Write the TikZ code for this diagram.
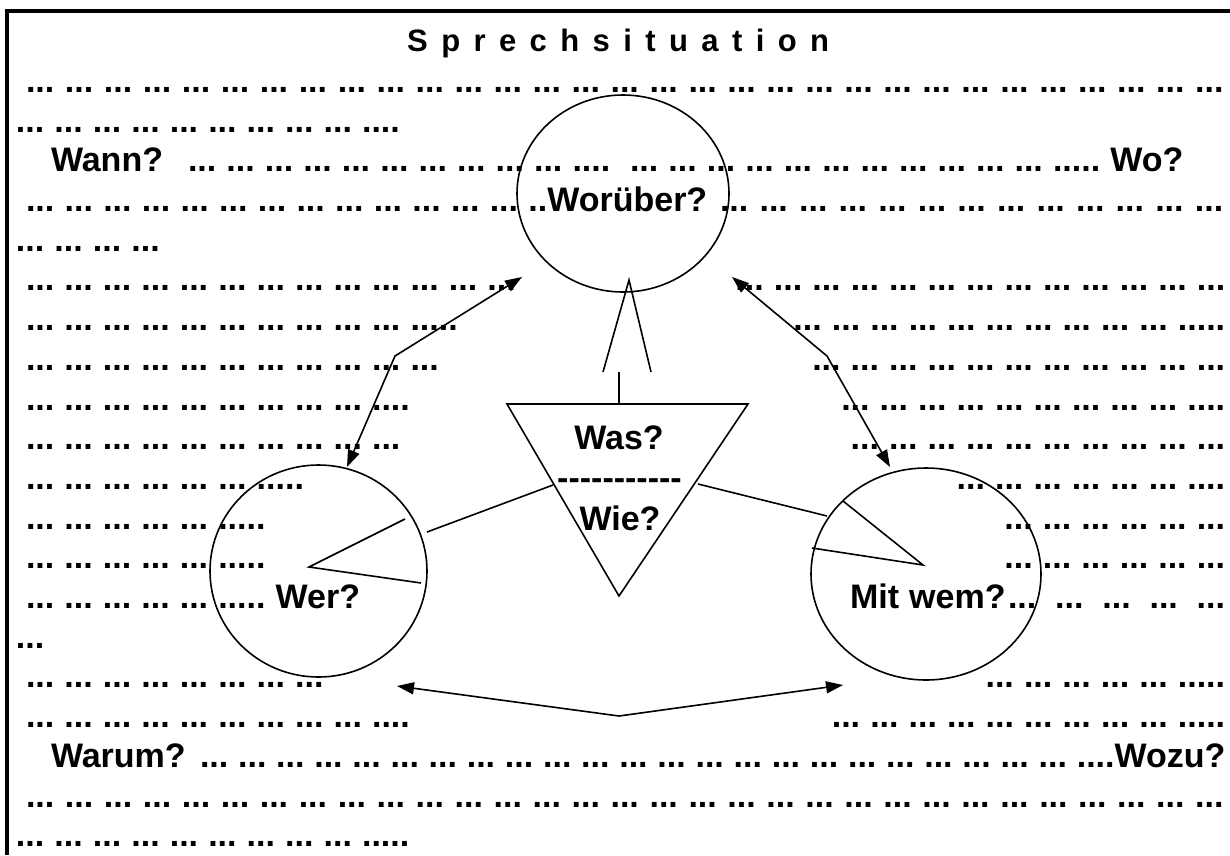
\documentclass[tikz,border=0pt]{standalone}
\usepackage{fontspec}
\setmainfont{Liberation Sans}
\usetikzlibrary{shapes.geometric,arrows.meta}

% a run of n groups of three dots, separated by single spaces
\newcommand\dotrun[1]{\foreach \i in {1,...,#1}{\ifnum\i>1 \space\fi...}}
\newcommand\bodyfont{\fontsize{34}{40}\selectfont\bfseries\frenchspacing\spaceskip=10.1pt plus 8pt minus 2pt\relax}
\newcommand\headfont{\fontsize{31}{36}\selectfont\bfseries\frenchspacing\spaceskip=13.4pt\relax}

\tikzset{
  txt/.style={font=\bodyfont, inner sep=0pt, outer sep=0pt, anchor=base west},
  txtr/.style={txt, anchor=base east},
  txtc/.style={txt, anchor=base},
  ring/.style={draw, ellipse, line width=1.6pt, inner sep=0pt},
  link/.style={line width=1.6pt},
  dbl/.style={link, {Triangle[length=17pt,width=12pt]}-{Triangle[length=17pt,width=12pt]}},
  frame/.style={line width=4pt},
}

\begin{document}
\begin{tikzpicture}[x=1pt,y=-1pt]
\useasboundingbox (0,0) rectangle (1230,855);

% page frame (top and left edges)
\draw[frame] (7,855) -- (7,11) -- (1232,11);

% heading
\node[font=\headfont, inner sep=0pt, anchor=base west] (title) at (407,51) {S p r e c h s i t u a t i o n};

% running text
\node[txt] (l1) at (26,92.4) {\makebox[1197pt][s]{\dotrun{31}}};
\node[txt] (l2) at (16,132.1) {\dotrun{9} ....};
\node[txt] (l3a) at (51,171.8) {Wann?};
\node[txt] (l3b) at (188,171.8) {\dotrun{10} ....};
\node[txt] (l3c) at (630,171.8) {\dotrun{11} ..... Wo?};
\node[txt] (l4a) at (26,211.5) {\makebox[681pt][s]{\dotrun{13} ..Worüber?}};
\node[txt] (l4b) at (720,211.5) {\makebox[503pt][s]{\dotrun{13}}};
\node[txt] (l5) at (16,251.2) {\dotrun{4}};
\node[txt] (l6a) at (26,290.9) {\dotrun{13}};
\node[txtr] (l6b) at (1225,290.9) {\dotrun{13}};
\node[txt] (l7a) at (26,330.6) {\dotrun{10} .....};
\node[txtr] (l7b) at (1225,330.6) {\dotrun{10} .....};
\node[txt] (l8a) at (26,370.3) {\dotrun{11}};
\node[txtr] (l8b) at (1225,370.3) {\dotrun{11}};
\node[txt] (l9a) at (26,410) {\dotrun{9} ....};
\node[txtr] (l9b) at (1225,410) {\dotrun{9} ....};
\node[txt] (l10a) at (26,449.7) {\dotrun{10}};
\node[txtr] (l10b) at (1225,449.7) {\dotrun{10}};
\node[txt] (l11a) at (26,489.4) {\dotrun{6} .....};
\node[txtr] (l11b) at (1225,489.4) {\dotrun{6} ....};
\node[txt] (l12a) at (26,529.1) {\dotrun{5} .....};
\node[txtr] (l12b) at (1225,529.1) {\dotrun{6}};
\node[txt] (l13a) at (26,568.8) {\dotrun{5} .....};
\node[txtr] (l13b) at (1225,568.8) {\dotrun{6}};
\node[txt] (l14a) at (26,608.5) {\dotrun{5} ..... Wer?};
\node[txt] (l14b) at (850,608.5) {Mit wem?};
\node[txt] (l14c) at (1008,608.5) {\makebox[217pt][s]{\dotrun{5}}};
\node[txt] (l15) at (16,648.2) {...};
\node[txt] (l16a) at (26,687.9) {\dotrun{8}};
\node[txtr] (l16b) at (1225,687.9) {\dotrun{5} .....};
\node[txt] (l17a) at (26,727.6) {\dotrun{9} ....};
\node[txtr] (l17b) at (1225,727.6) {\dotrun{9} .....};
\node[txt] (l18a) at (51,767.3) {Warum?};
\node[txt] (l18b) at (200,767.3) {\makebox[1025pt][s]{\dotrun{23} ....Wozu?}};
\node[txt] (l19) at (26,807) {\makebox[1197pt][s]{\dotrun{31}}};
\node[txt] (l20) at (16,846.7) {\dotrun{9} .....};

% the three circles
\node[ring, minimum width=212pt, minimum height=197pt] (wor) at (623,193.5) {};
\node[ring, minimum width=217pt, minimum height=212pt] (wer) at (318.5,571) {};
\node[ring, minimum width=230pt, minimum height=212pt] (mit) at (926,574) {};

% triangle with its two questions
\coordinate (tl) at (507,404);
\coordinate (tr) at (748,404);
\coordinate (tb) at (619,596);
\draw[link] (tl) -- (tr) -- (tb) -- cycle;
\node[txtc] (was) at (619,449) {Was?};
\node[txtc] (sep) at (619.5,489) {-\kern0pt-\kern0pt-\kern0pt-\kern0pt-\kern0pt-\kern0pt-\kern0pt-\kern0pt-\kern0pt-\kern0pt-};
\node[txtc] (wie) at (620,530) {Wie?};

% wedge between the upper circle and the triangle
\coordinate (wa) at (629,280);
\coordinate (wl) at (603,372);
\coordinate (wr) at (651,372);
\coordinate (st) at (619,372);
\draw[link] (wl) -- (wa) -- (wr);
\draw[link] (st) -- (st |- tl);

% wedge and link towards the left circle
\coordinate (w1) at (405,519);
\coordinate (w0) at (309,567);
\coordinate (w2) at (421,583);
\draw[link] (w1) -- (w0) -- (w2);
\coordinate (tll) at (553,485);
\coordinate (wel) at (427,532);
\draw[link] (tll) -- (wel);

% wedge and link towards the right circle
\coordinate (m1) at (843,501);
\coordinate (m0) at (923,565);
\coordinate (m2) at (812,548);
\draw[link] (m1) -- (m0) -- (m2);
\coordinate (trr) at (698,484);
\coordinate (mil) at (827,516);
\draw[link] (trr) -- (mil);

% double arrows between the circles
\coordinate (a1) at (522,277);
\coordinate (b1) at (395,356);
\coordinate (c1) at (347,467);
\draw[dbl] (a1) -- (b1) -- (c1);
\coordinate (a2) at (732,277);
\coordinate (b2) at (827,356);
\coordinate (c2) at (890,467);
\draw[dbl] (a2) -- (b2) -- (c2);
\coordinate (a3) at (397,686);
\coordinate (b3) at (619,716);
\coordinate (c3) at (843,685);
\draw[dbl] (a3) -- (b3) -- (c3);
\end{tikzpicture}
\end{document}
